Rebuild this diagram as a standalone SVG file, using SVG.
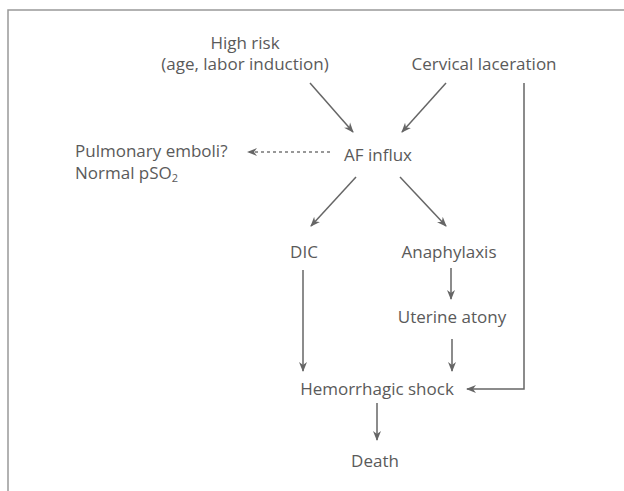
<svg xmlns="http://www.w3.org/2000/svg" width="624" height="491" viewBox="0 0 624 491">
<defs>
<style>
text{font-family:"Open Sans","Noto Sans","Liberation Sans",sans-serif;font-size:17px;fill:#5a5a5a}
.c{text-anchor:middle}
.ln{stroke:#666;stroke-width:1.5;fill:none}
.dash{stroke:#777;stroke-width:1.5;fill:none;stroke-dasharray:3 3}
</style>
<marker id="ah" viewBox="0 0 10 10" refX="9" refY="5" markerWidth="10" markerHeight="10" markerUnits="userSpaceOnUse" orient="auto">
<path d="M0,1 L10,5 L0,9 L3,5 Z" fill="#666"/>
</marker>
</defs>
<rect width="624" height="491" fill="#fff"/>
<path d="M8,491 V10 H624" fill="none" stroke="#999" stroke-width="1.5"/>
<g id="highrisk"><text class="c" x="245" y="49">High risk</text><text class="c" x="245" y="70">(age, labor induction)</text></g>
<g id="cervical"><text class="c" x="484" y="70">Cervical laceration</text></g>
<g id="afinflux"><text class="c" x="378" y="161">AF influx</text></g>
<g id="pulmonary"><text x="75" y="157">Pulmonary emboli?</text><text x="75" y="179">Normal pSO<tspan font-size="11" dy="3">2</tspan></text></g>
<g id="dic"><text class="c" x="304" y="258">DIC</text></g>
<g id="anaphylaxis"><text class="c" x="449" y="258">Anaphylaxis</text></g>
<g id="uterine"><text class="c" x="452" y="323">Uterine atony</text></g>
<g id="shock"><text class="c" x="377" y="395">Hemorrhagic shock</text></g>
<g id="death"><text class="c" x="375" y="467">Death</text></g>
<g id="connectors">
<line class="ln" x1="310" y1="83" x2="353" y2="132" marker-end="url(#ah)"/>
<line class="ln" x1="446" y1="83" x2="402" y2="132" marker-end="url(#ah)"/>
<line class="dash" x1="330" y1="152" x2="248" y2="152" marker-end="url(#ah)"/>
<line class="ln" x1="356" y1="177" x2="311" y2="226" marker-end="url(#ah)"/>
<line class="ln" x1="400" y1="177" x2="446" y2="226" marker-end="url(#ah)"/>
<line class="ln" x1="451" y1="268" x2="451" y2="299" marker-end="url(#ah)"/>
<line class="ln" x1="452" y1="339" x2="452" y2="371" marker-end="url(#ah)"/>
<line class="ln" x1="303" y1="270" x2="303" y2="371" marker-end="url(#ah)"/>
<path class="ln" d="M524,83 V389 H467" marker-end="url(#ah)"/>
<line class="ln" x1="377" y1="403" x2="377" y2="440" marker-end="url(#ah)"/>
</g>
</svg>
